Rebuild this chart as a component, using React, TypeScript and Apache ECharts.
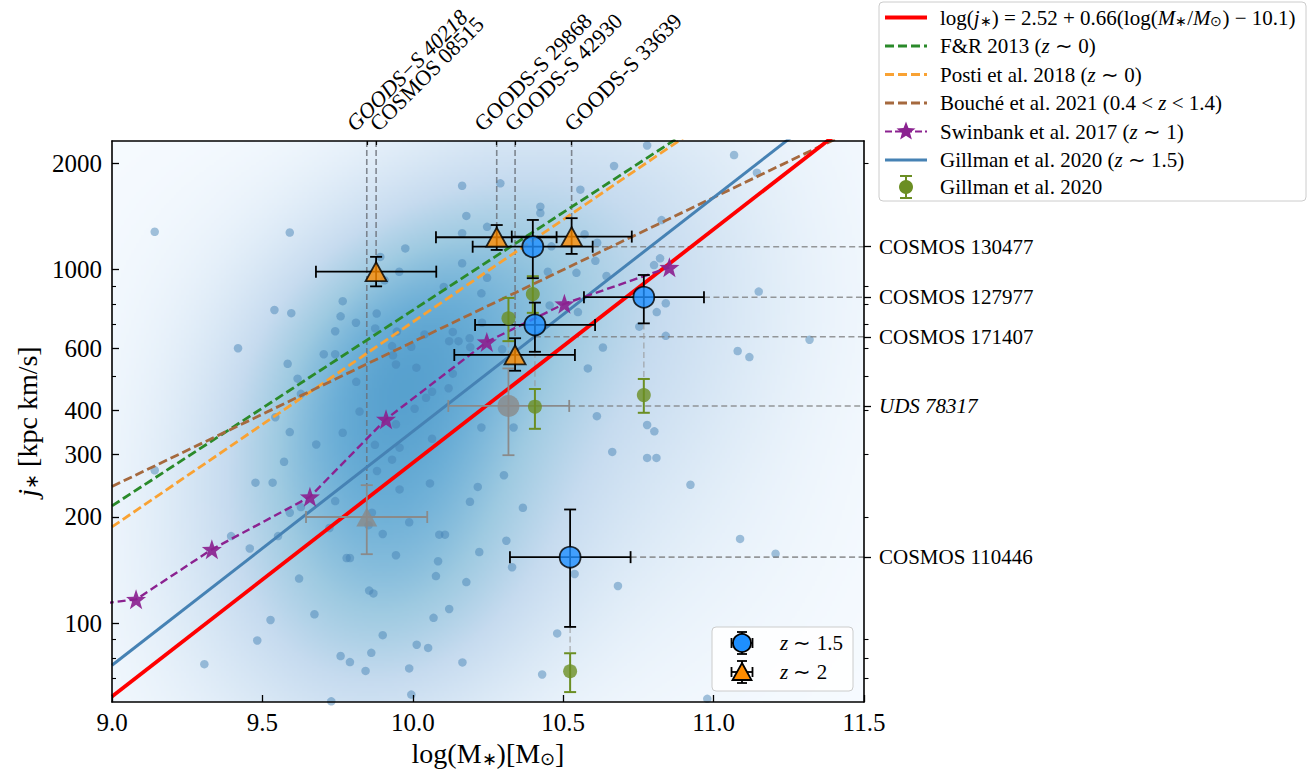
import React, { useEffect, useRef } from "react";
import * as echarts from "echarts";

const FONT = "Liberation Serif";

const X_MIN = 9.0;
const X_MAX = 11.5;
const J_MIN = 60;
const J_MAX = 2310;

const yMajorTicks = [100, 200, 300, 400, 600, 1000, 2000];
const yMinorTicks = [70, 80, 90, 500, 700, 800, 900];
const yRightMinorTicks = [70, 80, 90, 200, 300, 400, 500, 600, 700, 800, 900, 2000];

// comparison sample: [log(M*), log10(j*)]
const samplePoints: number[][] = [
  [9.142, 3.107], [9.591, 3.105], [10.164, 3.237], [10.178, 3.152], [10.164, 3.103], [9.975, 3.06], [9.892, 3.036],
  [9.955, 2.994], [9.906, 2.97], [10.164, 3.018], [10.103, 2.951], [10.228, 2.933], [10.247, 2.977], [10.247, 3.121],
  [9.54, 2.886], [9.596, 2.877], [9.767, 2.911], [9.76, 2.868], [9.811, 2.85], [9.88, 2.876], [9.742, 2.826],
  [9.875, 2.834], [9.947, 2.825], [9.419, 2.778], [9.704, 2.761], [9.742, 2.761], [9.584, 2.734], [9.617, 2.692],
  [9.812, 2.683], [9.931, 2.784], [9.934, 2.758], [9.944, 2.732], [9.995, 2.782], [10.012, 2.723], [10.039, 2.817],
  [10.121, 2.798], [10.133, 2.824], [10.152, 2.798], [10.189, 2.806], [10.191, 2.781], [10.23, 2.85], [10.133, 2.706],
  [10.119, 2.665], [10.064, 2.655], [10.044, 2.638], [10.006, 2.607], [9.823, 2.599], [9.628, 2.649], [9.543, 2.583],
  [10.779, 3.351], [11.068, 3.324], [10.669, 3.293], [10.291, 3.244], [10.557, 3.226], [11.144, 3.274], [10.424, 3.178],
  [10.424, 3.16], [10.827, 3.14], [10.571, 3.1], [10.613, 3.076], [10.461, 3.066], [10.607, 3.025], [10.544, 2.991],
  [10.449, 2.994], [10.644, 2.982], [10.822, 3.032], [10.802, 3.013], [11.15, 2.938], [10.841, 2.905], [10.811, 2.88],
  [10.753, 2.839], [10.841, 2.813], [10.549, 2.88], [10.455, 2.899], [10.632, 2.78], [10.582, 2.721], [11.08, 2.77],
  [11.119, 2.753], [11.319, 2.802], [10.612, 2.586], [10.297, 2.775],
  [9.591, 2.541], [9.767, 2.539], [9.944, 2.563], [10.228, 2.554], [9.679, 2.506], [9.874, 2.505], [9.956, 2.497],
  [10.064, 2.522], [9.572, 2.457], [9.931, 2.463], [9.881, 2.431], [9.142, 2.433], [9.477, 2.398], [9.534, 2.398],
  [10.057, 2.396], [9.956, 2.379], [10.216, 2.386], [10.19, 2.344], [9.742, 2.346], [9.591, 2.313], [9.628, 2.329],
  [9.864, 2.313], [9.988, 2.286], [9.723, 2.27], [9.9, 2.253], [10.088, 2.251], [10.107, 2.251], [9.853, 2.278],
  [9.396, 2.247], [9.552, 2.247], [9.458, 2.212], [9.78, 2.185], [9.791, 2.185], [9.944, 2.193], [10.084, 2.176],
  [10.221, 2.202], [10.077, 2.134], [10.178, 2.117], [9.622, 2.127], [9.855, 2.093], [9.869, 2.085], [9.673, 2.026],
  [9.527, 2.01], [10.121, 2.041], [10.069, 2.016], [9.9, 1.967], [9.483, 1.952], [10.013, 1.94], [10.051, 1.931],
  [9.76, 1.908], [9.791, 1.891], [9.862, 1.917], [9.843, 1.866], [9.988, 1.873], [10.165, 1.89], [9.307, 1.885],
  [9.995, 1.799], [9.729, 1.78],
  [10.335, 2.554], [10.779, 2.561], [10.803, 2.543], [10.663, 2.485], [10.779, 2.468], [10.81, 2.468], [10.303, 2.419],
  [10.923, 2.392], [10.366, 2.327], [10.311, 2.234], [10.33, 2.159], [10.538, 2.14], [10.682, 2.106], [11.088, 2.239],
  [11.206, 2.197], [10.48, 1.972], [10.43, 1.856], [10.979, 1.787],
];

// relations: [log M*, j*] end points
const relThisWork = [[9.0, 62.2], [11.5, 2780]];
const relGillman = [[9.0, 76.2], [11.5, 3423]];
const relFR = [[9.0, 215], [11.5, 5183]];
const relPosti = [[9.0, 187.5], [11.5, 5254]];
const relBouche = [[9.0, 244], [11.5, 2559]];

const swinbankLogM = [8.9, 9.08, 9.332, 9.658, 9.911, 10.246, 10.504, 10.853];
const swinbankJ = [112, 117, 162, 228, 378, 625, 801, 1015];

// z ~ 1.5 sample
const z15Names = ["COSMOS 130477", "COSMOS 127977", "COSMOS 171407", "COSMOS 110446"];
const z15LogM = [10.399, 10.768, 10.406, 10.523];
const z15J = [1161, 836, 698, 154];
const z15LogMLo = [10.199, 10.569, 10.207, 10.323];
const z15LogMHi = [10.598, 10.968, 10.606, 10.724];
const z15JLo = [946, 705, 586, 97.8];
const z15JHi = [1382, 966, 807, 210];

// z ~ 2 sample
const z2Names = ["COSMOS 08515", "GOODS-S 29868", "GOODS-S 33639", "GOODS-S 42930"];
const z2LogM = [9.878, 10.279, 10.528, 10.34];
const z2J = [987, 1235, 1240, 574];
const z2LogMLo = [9.678, 10.077, 10.329, 10.138];
const z2LogMHi = [10.078, 10.478, 10.728, 10.539];
const z2JLo = [897, 1137, 1108, 518];
const z2JHi = [1087, 1337, 1398, 640];

// excluded (grey) objects
const greyNames = ["UDS 78317", "GOODS-S 40218"];
const greyLogM = [10.318, 9.847];
const greyJ = [412, 200];
const greyLogMLo = [10.118, 9.645];
const greyLogMHi = [10.52, 10.048];
const greyJLo = [299, 157];
const greyJHi = [526, 246];
const greySymbols = ["circle", "triangle"];

// Gillman et al. 2020 measurements
const gillLogM = [10.318, 10.399, 10.406, 10.768, 10.523];
const gillJ = [729, 853, 410, 442, 73.3];
const gillJLo = [628, 755, 355, 394, 64];
const gillJHi = [832, 958, 460, 491, 82.4];

// top annotations: name, log M*, j* where the guide line ends
const topNames = ["GOODS−S 40218", "COSMOS 08515", "GOODS-S 29868", "GOODS-S 42930", "GOODS-S 33639"];
const topLogM = [9.847, 9.878, 10.279, 10.34, 10.528];
const topJEnd = [246, 1087, 1337, 640, 1398];
const topItalic = [true, false, false, false, false];
const topLabelShift = [-9, 5, -11, 1, 4];

// right annotations: name, j*, log M* where guide line starts
const rightNames = ["COSMOS 130477", "COSMOS 127977", "COSMOS 171407", "UDS 78317", "COSMOS 110446"];
const rightJ = [1161, 836, 646, 412, 154];
const rightLogMStart = [10.598, 10.968, 10.406, 10.52, 10.724];
const rightItalic = [false, false, false, true, false];

// connectors between the two measurements of the same galaxy: [log M*, j top, j bottom]
const connectors = [[10.406, 586, 460], [10.768, 705, 491], [10.523, 97.8, 82.4], [10.318, 628, 526]];

const legendLabels = [
  "log({i|j}{s|∗}) = 2.52 + 0.66(log({i|M}{s|∗}/{i|M}{s|⊙}) − 10.1)",
  "F&R 2013 ({i|z} ∼ 0)",
  "Posti et al. 2018 ({i|z} ∼ 0)",
  "Bouché et al. 2021 (0.4 < {i|z} < 1.4)",
  "Swinbank et al. 2017 ({i|z} ∼ 1)",
  "Gillman et al. 2020 ({i|z} ∼ 1.5)",
  "Gillman et al. 2020",
];
const innerLegendLabels = ["{i|z} ∼ 1.5", "{i|z} ∼ 2"];

const C_RED = "#ff0000";
const C_STEEL = "#4682b4";
const C_GREEN = "#2a8a2a";
const C_ORANGE = "#f9a233";
const C_BROWN = "#a5693e";
const C_PURPLE = "#8b2290";
const C_OLIVE = "#6b8e23";
const C_BLUE = "#1e8fff";
const C_DORANGE = "#ff8c00";
const C_GREY = "#8a8a8a";

const BLUES = ["#f7fbff", "#deebf7", "#c6dbef", "#9ecae1", "#6baed6", "#4292c6", "#2171b5", "#08519c", "#08306b"];

function hexRgb(h: string) {
  return [parseInt(h.slice(1, 3), 16), parseInt(h.slice(3, 5), 16), parseInt(h.slice(5, 7), 16)];
}
const BLUES_RGB = BLUES.map(hexRgb);
function bluesAt(t: number) {
  const tt = Math.max(0, Math.min(1, t)) * 8;
  const i = Math.min(7, Math.floor(tt));
  const f = tt - i;
  const a = BLUES_RGB[i], b = BLUES_RGB[i + 1];
  return [a[0] + (b[0] - a[0]) * f, a[1] + (b[1] - a[1]) * f, a[2] + (b[2] - a[2]) * f];
}

function buildDensityImage(): string {
  const W = 300, H = 224;
  const n = samplePoints.length;
  let mx = 0, my = 0;
  samplePoints.forEach((p) => { mx += p[0]; my += p[1]; });
  mx /= n; my /= n;
  let cxx = 0, cyy = 0, cxy = 0;
  samplePoints.forEach((p) => {
    cxx += (p[0] - mx) ** 2; cyy += (p[1] - my) ** 2; cxy += (p[0] - mx) * (p[1] - my);
  });
  cxx /= n - 1; cyy /= n - 1; cxy /= n - 1;
  const f2 = Math.pow(n, -1 / 3) * 2.6;
  const a = cxx * f2, b = cxy * f2, d = cyy * f2;
  const det = a * d - b * b;
  const ia = d / det, ib = -b / det, id = a / det;
  const ly0 = Math.log10(J_MAX), ly1 = Math.log10(J_MIN);
  const dens = new Float64Array(W * H);
  let max = 0;
  for (let k = 0; k < H; k++) {
    const ly = ly0 + ((k + 0.5) / H) * (ly1 - ly0);
    for (let i = 0; i < W; i++) {
      const lx = X_MIN + ((i + 0.5) / W) * (X_MAX - X_MIN);
      let s = 0;
      for (let q = 0; q < n; q++) {
        const dx = lx - samplePoints[q][0], dy = ly - samplePoints[q][1];
        s += Math.exp(-0.5 * (ia * dx * dx + 2 * ib * dx * dy + id * dy * dy));
      }
      dens[k * W + i] = s;
      if (s > max) max = s;
    }
  }
  const canvas = document.createElement("canvas");
  canvas.width = W; canvas.height = H;
  const ctx = canvas.getContext("2d")!;
  const img = ctx.createImageData(W, H);
  for (let p = 0; p < W * H; p++) {
    const c = bluesAt(0.56 * dens[p] / max);
    img.data[p * 4] = c[0]; img.data[p * 4 + 1] = c[1]; img.data[p * 4 + 2] = c[2]; img.data[p * 4 + 3] = 255;
  }
  ctx.putImageData(img, 0, 0);
  return canvas.toDataURL("image/png");
}

function starPoints(cx: number, cy: number, R: number, r: number) {
  const pts: number[][] = [];
  for (let k = 0; k < 10; k++) {
    const ang = -Math.PI / 2 + (k * Math.PI) / 5;
    const rad = k % 2 === 0 ? R : r;
    pts.push([cx + rad * Math.cos(ang), cy + rad * Math.sin(ang)]);
  }
  return pts;
}
const STAR_PATH =
  "path://M0,-10L2.35,-3.24L9.51,-3.09L3.8,1.24L5.88,8.09L0,4L-5.88,8.09L-3.8,1.24L-9.51,-3.09L-2.35,-3.24Z";

function errorBarSeries(name: string, rows: number[][], color: string, lw: number, z: number) {
  return {
    type: "custom",
    name,
    silent: true,
    z,
    clip: false,
    encode: { x: 0, y: 1 },
    data: rows,
    renderItem: (_p: any, api: any) => {
      const x = api.value(0), j = api.value(1), xl = api.value(2), xh = api.value(3), jl = api.value(4), jh = api.value(5);
      const st = { stroke: color, lineWidth: lw };
      const cap = 6;
      const ch: any[] = [];
      if (xh > xl) {
        const a = api.coord([xl, j]), b = api.coord([xh, j]);
        ch.push({ type: "line", shape: { x1: a[0], y1: a[1], x2: b[0], y2: b[1] }, style: st });
        ch.push({ type: "line", shape: { x1: a[0], y1: a[1] - cap, x2: a[0], y2: a[1] + cap }, style: st });
        ch.push({ type: "line", shape: { x1: b[0], y1: b[1] - cap, x2: b[0], y2: b[1] + cap }, style: st });
      }
      const t = api.coord([x, jh]), u = api.coord([x, jl]);
      ch.push({ type: "line", shape: { x1: t[0], y1: t[1], x2: u[0], y2: u[1] }, style: st });
      ch.push({ type: "line", shape: { x1: t[0] - cap, y1: t[1], x2: t[0] + cap, y2: t[1] }, style: st });
      ch.push({ type: "line", shape: { x1: u[0] - cap, y1: u[1], x2: u[0] + cap, y2: u[1] }, style: st });
      return { type: "group", children: ch };
    },
  };
}

const richLegend = {
  i: { fontStyle: "italic", fontSize: 21, fontFamily: FONT, fill: "#000", color: "#000" },
  s: { fontSize: 14, fontFamily: FONT, fill: "#000", color: "#000", verticalAlign: "bottom" },
};

function textEl(text: string, x: number, y: number, size = 21) {
  return {
    type: "text",
    z: 101,
    style: {
      text, x, y, fill: "#000", fontSize: size, fontFamily: FONT,
      align: "left", verticalAlign: "middle", textAlign: "left", textVerticalAlign: "middle",
      rich: richLegend,
    },
  };
}
function lineEl(x1: number, y1: number, x2: number, y2: number, stroke: string, lw: number, dash?: number[]) {
  return { type: "line", z: 101, shape: { x1, y1, x2, y2 }, style: { stroke, lineWidth: lw, lineDash: dash || null } };
}

function buildGraphics() {
  const els: any[] = [];
  // main legend
  els.push({ type: "rect", z: 100, shape: { x: 879, y: 2, width: 427, height: 199, r: 4 },
    style: { fill: "rgba(255,255,255,0.85)", stroke: "#cccccc", lineWidth: 1 } });
  const rowY = [17.5, 46, 74.5, 103, 131.5, 160, 187];
  const lx1 = 885, lx2 = 927, tx = 940;
  els.push(lineEl(lx1, rowY[0], lx2, rowY[0], C_RED, 3.8));
  els.push(lineEl(lx1, rowY[1], lx2, rowY[1], C_GREEN, 2.8, [9, 4]));
  els.push(lineEl(lx1, rowY[2], lx2, rowY[2], C_ORANGE, 2.8, [9, 4]));
  els.push(lineEl(lx1, rowY[3], lx2, rowY[3], C_BROWN, 2.8, [9, 4]));
  els.push(lineEl(lx1, rowY[4], lx2, rowY[4], C_PURPLE, 2.2, [7, 3]));
  els.push({ type: "polygon", z: 102, shape: { points: starPoints(906, rowY[4], 10, 4.2) }, style: { fill: C_PURPLE } });
  els.push(lineEl(lx1, rowY[5], lx2, rowY[5], C_STEEL, 3.2));
  // olive errorbar icon
  els.push(lineEl(906, rowY[6] - 11, 906, rowY[6] + 11, C_OLIVE, 2));
  els.push(lineEl(900, rowY[6] - 11, 912, rowY[6] - 11, C_OLIVE, 2));
  els.push(lineEl(900, rowY[6] + 11, 912, rowY[6] + 11, C_OLIVE, 2));
  els.push({ type: "circle", z: 102, shape: { cx: 906, cy: rowY[6], r: 7 }, style: { fill: C_OLIVE } });
  legendLabels.forEach((t, k) => els.push(textEl(t, tx, rowY[k])));

  // inner legend
  els.push({ type: "rect", z: 100, shape: { x: 712, y: 627, width: 141, height: 64, r: 4 },
    style: { fill: "rgba(255,255,255,0.85)", stroke: "#cccccc", lineWidth: 1 } });
  const iy = [643, 672];
  const ix = 742;
  iy.forEach((y) => {
    els.push(lineEl(ix - 10.5, y, ix + 10.5, y, "#000", 1.8));
    els.push(lineEl(ix, y - 11, ix, y + 11, "#000", 1.8));
    els.push(lineEl(ix - 10.5, y - 5, ix - 10.5, y + 5, "#000", 1.8));
    els.push(lineEl(ix + 10.5, y - 5, ix + 10.5, y + 5, "#000", 1.8));
    els.push(lineEl(ix - 5, y - 11, ix + 5, y - 11, "#000", 1.8));
    els.push(lineEl(ix - 5, y + 11, ix + 5, y + 11, "#000", 1.8));
  });
  els.push({ type: "circle", z: 102, shape: { cx: ix, cy: iy[0], r: 9 }, style: { fill: C_BLUE, stroke: "#000", lineWidth: 1.8 } });
  els.push({ type: "polygon", z: 102, shape: { points: [[ix, iy[1] - 9], [ix + 9.5, iy[1] + 8], [ix - 9.5, iy[1] + 8]] },
    style: { fill: C_DORANGE, stroke: "#000", lineWidth: 1.8 } });
  innerLegendLabels.forEach((t, k) => els.push(textEl(t, 780, iy[k])));
  return els;
}

export default function App() {
  const ref = useRef<HTMLDivElement>(null);
  useEffect(() => {
    if (!ref.current) return;
    const chart = echarts.init(ref.current, null, { renderer: "svg" });
    const densityUrl = buildDensityImage();

    const lineSeries = (name: string, data: number[][], color: string, width: number, dash: any, z = 3) => ({
      type: "line", name, data, z, silent: true, symbol: "none", showSymbol: false, clip: true,
      lineStyle: { color, width, type: dash },
    });

    const axisBase = {
      z: 10,
      splitLine: { show: false },
    };

    const option: any = {
      animation: false,
      backgroundColor: "#ffffff",
      textStyle: { fontFamily: FONT },
      grid: { left: 112, right: 447, top: 141, bottom: 74, containLabel: false, outerBoundsMode: "none" },
      xAxis: [
        {
          ...axisBase, type: "value", position: "bottom", min: X_MIN, max: X_MAX, interval: 0.5,
          axisLine: { show: true, onZero: false, lineStyle: { color: "#000", width: 1.6 } },
          axisTick: { show: true, inside: true, length: 7, lineStyle: { color: "#000", width: 1.3 } },
          axisLabel: { show: true, color: "#000", fontSize: 25, fontFamily: FONT, margin: 8,
            formatter: (v: number) => v.toFixed(1) },
          name: "log(M{s|∗})[M{s|⊙}]", nameLocation: "middle", nameGap: 34,
          nameTextStyle: { color: "#000", fontSize: 28, fontFamily: FONT,
            rich: { s: { fontSize: 18, fontFamily: FONT, color: "#000", verticalAlign: "bottom" } } },
        },
        {
          ...axisBase, type: "value", position: "top", min: X_MIN, max: X_MAX,
          axisLine: { show: true, onZero: false, lineStyle: { color: "#000", width: 1.6 } },
          axisTick: { show: true, inside: true, length: 4, customValues: topLogM, lineStyle: { color: "#000", width: 1.2 } },
          axisLabel: { show: false },
        },
      ],
      yAxis: [
        {
          ...axisBase, type: "log", logBase: 10, position: "left", min: J_MIN, max: J_MAX,
          axisLine: { show: true, onZero: false, lineStyle: { color: "#000", width: 1.6 } },
          axisTick: { show: true, inside: true, length: 7, customValues: yMajorTicks, lineStyle: { color: "#000", width: 1.3 } },
          axisLabel: { show: true, customValues: yMajorTicks, color: "#000", fontSize: 25, fontFamily: FONT, margin: 10,
            formatter: (v: number) => String(Math.round(v)) },
          name: "{i|j}{s|∗} [kpc km/s]", nameLocation: "middle", nameGap: 70,
          nameTextStyle: { color: "#000", fontSize: 28, fontFamily: FONT,
            rich: { i: { fontStyle: "italic", fontSize: 28, fontFamily: FONT, color: "#000" },
              s: { fontSize: 18, fontFamily: FONT, color: "#000", verticalAlign: "bottom" } } },
        },
        {
          ...axisBase, type: "log", logBase: 10, position: "left", min: J_MIN, max: J_MAX,
          axisLine: { show: false },
          axisTick: { show: true, inside: true, length: 4, customValues: yMinorTicks, lineStyle: { color: "#000", width: 1.1 } },
          axisLabel: { show: false },
        },
        {
          ...axisBase, type: "log", logBase: 10, position: "right", min: J_MIN, max: J_MAX,
          axisLine: { show: true, onZero: false, lineStyle: { color: "#000", width: 1.6 } },
          axisTick: { show: true, inside: false, length: 7, customValues: rightJ, lineStyle: { color: "#000", width: 1.3 } },
          axisLabel: {
            show: true, customValues: rightJ, color: "#000", fontSize: 21, fontFamily: FONT, margin: 15,
            formatter: (v: number) => {
              let best = 0;
              rightJ.forEach((r, k) => { if (Math.abs(r - v) < Math.abs(rightJ[best] - v)) best = k; });
              return rightItalic[best] ? "{it|" + rightNames[best] + "}" : rightNames[best];
            },
            rich: { it: { fontStyle: "italic", fontSize: 21, fontFamily: FONT, color: "#000" } },
          },
        },
        {
          ...axisBase, type: "log", logBase: 10, position: "right", min: J_MIN, max: J_MAX,
          axisLine: { show: false },
          axisTick: { show: true, inside: false, length: 4.5, customValues: yRightMinorTicks, lineStyle: { color: "#000", width: 1.1 } },
          axisLabel: { show: false },
        },
      ],
      graphic: buildGraphics(),
      series: [
        {
          type: "custom", name: "density", silent: true, z: 0, clip: false,
          encode: { x: 0, y: 1 },
          data: [[X_MIN, J_MIN]],
          renderItem: (_p: any, api: any) => {
            const p1 = api.coord([X_MIN, J_MAX]);
            const p2 = api.coord([X_MAX, J_MIN]);
            return { type: "image", style: { image: densityUrl, x: p1[0], y: p1[1], width: p2[0] - p1[0], height: p2[1] - p1[1] } };
          },
        },
        {
          type: "scatter", name: "sample", silent: true, z: 1, symbolSize: 8.5,
          itemStyle: { color: "rgba(70,130,180,0.6)" },
          data: samplePoints.map((p) => [p[0], Math.pow(10, p[1])]),
        },
        lineSeries("F&R 2013", relFR, C_GREEN, 2.8, [9, 4]),
        lineSeries("Posti et al. 2018", relPosti, C_ORANGE, 2.8, [9, 4]),
        lineSeries("Bouché et al. 2021", relBouche, C_BROWN, 2.8, [9, 4]),
        lineSeries("Gillman et al. 2020 relation", relGillman, C_STEEL, 3, "solid"),
        lineSeries("This work", relThisWork, C_RED, 3.8, "solid"),
        {
          type: "line", name: "Swinbank et al. 2017", z: 4, silent: true, clip: true,
          data: swinbankLogM.map((m, k) => [m, swinbankJ[k]]),
          symbol: STAR_PATH, symbolSize: 20, showSymbol: true,
          itemStyle: { color: C_PURPLE, opacity: 0.92 },
          lineStyle: { color: C_PURPLE, width: 2.4, type: [8, 4] },
        },
        {
          type: "custom", name: "top guides", silent: true, z: 3, clip: false,
          encode: { x: 0, y: 1 },
          data: topLogM.map((m, k) => [m, topJEnd[k]]),
          renderItem: (p: any, api: any) => {
            const k = p.dataIndex;
            const top = api.coord([api.value(0), J_MAX]);
            const end = api.coord([api.value(0), api.value(1)]);
            return {
              type: "group",
              children: [
                { type: "line", shape: { x1: top[0], y1: top[1], x2: end[0], y2: end[1] },
                  style: { stroke: "rgba(105,110,118,0.8)", lineWidth: 1.6, lineDash: [6, 3] } },
                { type: "text", x: top[0] + topLabelShift[k], y: top[1] - 6, rotation: Math.PI / 4,
                  style: { text: topNames[k], x: 0, y: 0, fill: "#000", fontSize: 22, fontFamily: FONT,
                    fontStyle: topItalic[k] ? "italic" : "normal",
                    align: "left", verticalAlign: "bottom", textAlign: "left", textVerticalAlign: "bottom" } },
              ],
            };
          },
        },
        {
          type: "custom", name: "right guides", silent: true, z: 3, clip: false,
          encode: { x: 0, y: 1 },
          data: rightLogMStart.map((m, k) => [m, rightJ[k]]),
          renderItem: (_p: any, api: any) => {
            const a = api.coord([api.value(0), api.value(1)]);
            const b = api.coord([X_MAX, api.value(1)]);
            return { type: "line", shape: { x1: a[0], y1: a[1], x2: b[0], y2: b[1] },
              style: { stroke: "rgba(120,120,120,0.75)", lineWidth: 1.6, lineDash: [6, 3.5] } };
          },
        },
        {
          type: "custom", name: "connectors", silent: true, z: 3, clip: false,
          encode: { x: 0, y: 1 },
          data: connectors,
          renderItem: (_p: any, api: any) => {
            const a = api.coord([api.value(0), api.value(1)]);
            const b = api.coord([api.value(0), api.value(2)]);
            return { type: "line", shape: { x1: a[0], y1: a[1], x2: b[0], y2: b[1] },
              style: { stroke: "rgba(150,150,150,0.6)", lineWidth: 1.6, lineDash: [6, 3.5] } };
          },
        },
        errorBarSeries("grey err", greyLogM.map((m, k) => [m, greyJ[k], greyLogMLo[k], greyLogMHi[k], greyJLo[k], greyJHi[k]]), C_GREY, 1.8, 5),
        errorBarSeries("gillman err", gillLogM.map((m, k) => [m, gillJ[k], m, m, gillJLo[k], gillJHi[k]]), C_OLIVE, 2, 5),
        errorBarSeries("z2 err", z2LogM.map((m, k) => [m, z2J[k], z2LogMLo[k], z2LogMHi[k], z2JLo[k], z2JHi[k]]), "#000", 1.8, 6),
        errorBarSeries("z15 err", z15LogM.map((m, k) => [m, z15J[k], z15LogMLo[k], z15LogMHi[k], z15JLo[k], z15JHi[k]]), "#000", 1.8, 6),
        {
          type: "scatter", name: "excluded", silent: true, z: 6,
          data: greyLogM.map((m, k) => ({ name: greyNames[k], value: [m, greyJ[k]], symbol: greySymbols[k],
            symbolSize: greySymbols[k] === "circle" ? 22 : [21, 19] })),
          itemStyle: { color: C_GREY },
        },
        {
          type: "scatter", name: "Gillman et al. 2020", silent: true, z: 6, symbolSize: 14,
          data: gillLogM.map((m, k) => [m, gillJ[k]]),
          itemStyle: { color: C_OLIVE },
        },
        {
          type: "scatter", name: "z ~ 2", silent: true, z: 7, symbol: "triangle", symbolSize: [21, 19],
          data: z2LogM.map((m, k) => ({ name: z2Names[k], value: [m, z2J[k]] })),
          itemStyle: { color: C_DORANGE, borderColor: "#000", borderWidth: 1.8 },
        },
        {
          type: "scatter", name: "z ~ 1.5", silent: true, z: 7, symbol: "circle", symbolSize: 21,
          data: z15LogM.map((m, k) => ({ name: z15Names[k], value: [m, z15J[k]] })),
          itemStyle: { color: C_BLUE, borderColor: "#000", borderWidth: 1.8 },
        },
      ],
    };
    chart.setOption(option);
    return () => chart.dispose();
  }, []);
  return <div ref={ref} style={{ position: "fixed", left: 0, top: 0, width: 1311, height: 776 }} />;
}
